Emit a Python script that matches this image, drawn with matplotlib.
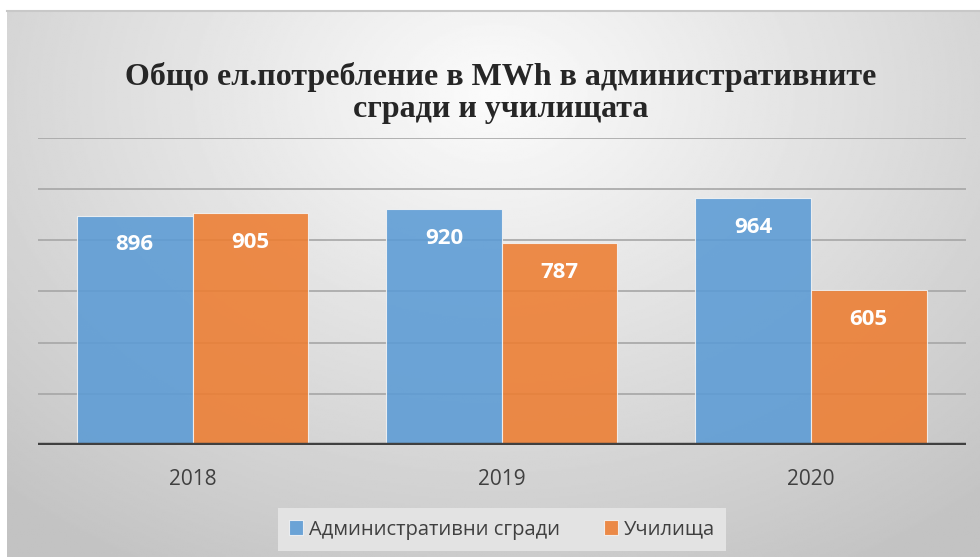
import matplotlib
matplotlib.use("Agg")
import matplotlib.pyplot as plt
import numpy as np

years = ["2018", "2019", "2020"]
admin = [896, 920, 964]
schools = [905, 787, 605]
series_names = ["Административни сгради", "Училища"]
title_lines = ["Общо ел.потребление в MWh в административните", "сгради и училищата"]

blue = "#5B9BD5"
orange = "#ED7D31"

fig = plt.figure(figsize=(9.8, 5.57), dpi=100)
fig.patch.set_facecolor("white")

# background panel with radial gradient
bg = fig.add_axes([7 / 980, 0, 1 - 7 / 980, 546 / 557], zorder=0)
yy, xx = np.mgrid[0:1:300j, 0:1:500j]
r = np.sqrt(((xx - 0.5) * 1.0) ** 2 + ((yy - 0.15) * 0.75) ** 2)
r = np.clip(r / 0.75, 0, 1)
shade = 0.985 - 0.22 * r
bg.imshow(shade, cmap="gray", vmin=0, vmax=1, aspect="auto",
          extent=[0, 1, 0, 1], origin="upper")
bg.set_xlim(0, 1)
bg.set_ylim(0, 1)
bg.axis("off")
fig.add_artist(plt.Line2D([7 / 980, 1], [546 / 557, 546 / 557],
                          color="#c8c8c8", lw=1.5, transform=fig.transFigure))

ax = fig.add_axes([38 / 980, 1 - 445 / 557, 927.5 / 980, (445 - 137.7) / 557], zorder=1)
ax.patch.set_visible(False)

x = np.arange(len(years))
w = 0.374
b1 = ax.bar(x - w / 2, admin, w, color=blue, alpha=0.88, edgecolor="#f4f4f4",
            linewidth=0.8, label=series_names[0], zorder=2)
b2 = ax.bar(x + w / 2, schools, w, color=orange, alpha=0.88, edgecolor="#f4f4f4",
            linewidth=0.8, label=series_names[1], zorder=2)

for bars, vals in ((b1, admin), (b2, schools)):
    for rect, v in zip(bars, vals):
        ax.annotate(str(v), (rect.get_x() + rect.get_width() / 2, v),
                    xytext=(0, -21), textcoords="offset points",
                    ha="center", va="center", color="white",
                    fontsize=16, fontweight="bold", family="Open Sans", zorder=3)

ax.set_ylim(0, 1200)
ax.set_xlim(-0.5, 2.5)
ax.set_yticks(np.arange(200, 1201, 200))
ax.yaxis.grid(True, color="#a6a6a6", lw=1.2, zorder=1)
ax.set_axisbelow(True)
ax.tick_params(axis="y", left=False, labelleft=False)
ax.set_xticks(x)
ax.set_xticklabels(years, fontsize=15, color="#404040", family="Open Sans")
ax.tick_params(axis="x", length=0, pad=17)
for s in ax.spines.values():
    s.set_visible(False)
ax.axhline(0, color="#404040", lw=3.2, zorder=4)

for line, base in zip(title_lines, (85, 117)):
    fig.text(501 / 980, 1 - base / 557, line, ha="center", va="baseline",
             family="Liberation Serif", fontweight="bold", fontsize=23,
             color="#262626")

leg = fig.legend(handles=[b1, b2], loc="center", bbox_to_anchor=(502 / 980, 1 - 529.5 / 557),
                 ncol=2, frameon=True, fancybox=False, facecolor="#e3e3e3",
                 edgecolor="none", framealpha=1,
                 prop={"family": "Open Sans", "size": 14.5},
                 handlelength=0.7, handleheight=0.7, handletextpad=0.3,
                 columnspacing=2.2, borderpad=0.55)
for t in leg.get_texts():
    t.set_color("#404040")

fig.savefig("out.png", dpi=100)
